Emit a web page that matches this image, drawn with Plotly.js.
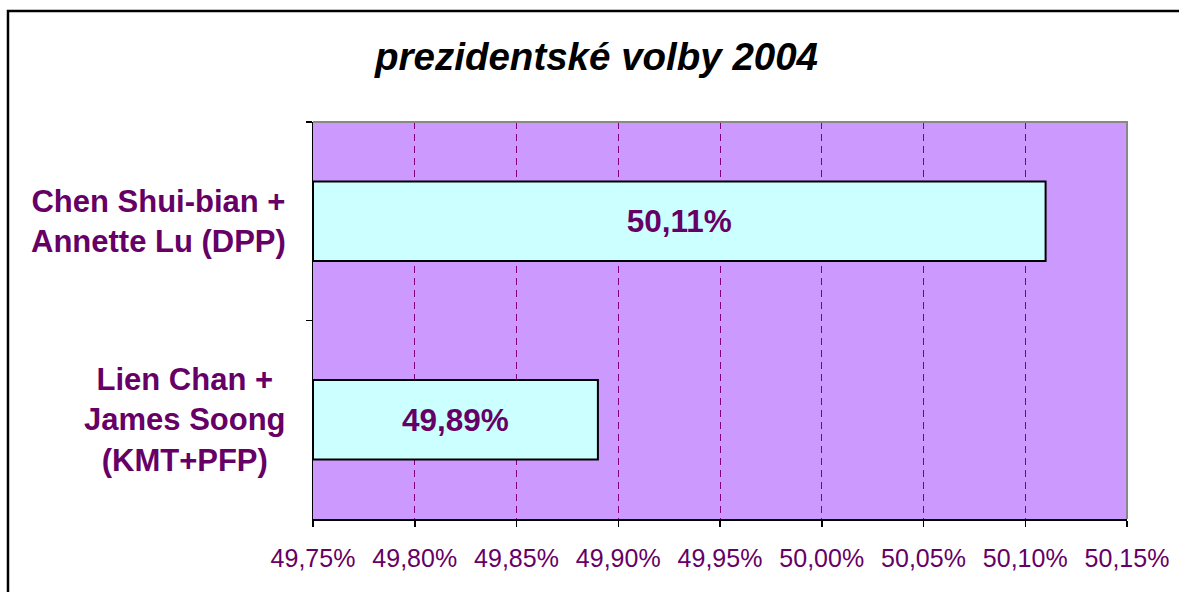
<!DOCTYPE html>
<html>
<head>
<meta charset="utf-8">
<script src="https://cdn.plot.ly/plotly-3.0.1.min.js"></script>
<style>
  html, body { margin: 0; padding: 0; background: #ffffff; overflow: hidden; }
  #chart { width: 1179px; height: 592px; }
</style>
</head>
<body>
<div id="chart"></div>
<script>
// ---- data ----
const categories = [
  "Chen Shui-bian +<br>Annette Lu (DPP)",
  "Lien Chan +<br>James Soong<br>(KMT+PFP)"
];
const values = [50.11, 49.89];           // percent
const barLabels = ["50,11%", "49,89%"];
const xTickValues = [49.75, 49.80, 49.85, 49.90, 49.95, 50.00, 50.05, 50.10, 50.15];
const xTickLabels = ["49,75%", "49,80%", "49,85%", "49,90%", "49,95%", "50,00%", "50,05%", "50,10%", "50,15%"];
const titleText = "<b><i>prezidentské volby 2004</i></b>";

// ---- chart ----
const axisMin = 49.75, axisMax = 50.15;
const FONT = "Liberation Sans, Arial, Helvetica, sans-serif";
const PURPLE = "#660066";

const trace = {
  type: "bar",
  orientation: "h",
  y: categories,
  base: axisMin,
  x: values.map(v => v - axisMin),
  width: 0.4,
  marker: { color: "#CCFFFF", line: { color: "#000000", width: 2 } },
  text: barLabels,
  textposition: "inside",
  insidetextanchor: "middle",
  textangle: 0,
  constraintext: "none",
  textfont: { family: FONT, size: 31.5, color: PURPLE, weight: "bold" },
  hoverinfo: "skip"
};

const labelAnnotations = categories.map(c => ({
  xref: "paper", yref: "y",
  x: -0.0319, y: c,
  xanchor: "right", yanchor: "middle",
  align: "center",
  showarrow: false,
  borderpad: 0,
  text: "<b>" + c + "</b>",
  font: { family: FONT, size: 31, color: PURPLE }
}));

const layout = {
  width: 1179, height: 592,
  margin: { l: 313, r: 52, t: 122, b: 73, pad: 0 },
  paper_bgcolor: "#ffffff",
  plot_bgcolor: "#CC99FF",
  showlegend: false,
  title: {
    text: titleText,
    font: { family: FONT, size: 38.5, color: "#000000" },
    x: 0.506, xref: "container", xanchor: "center",
    y: 0.905, yref: "container", yanchor: "middle"
  },
  xaxis: {
    range: [axisMin, axisMax],
    tickmode: "array",
    tickvals: xTickValues,
    ticktext: xTickLabels,
    ticks: "outside", ticklen: 6, tickwidth: 1.5, tickcolor: "#000000",
    showline: true, linecolor: "#000000", linewidth: 1.5,
    showgrid: true, gridcolor: "#800080", gridwidth: 1, griddash: "7px,5px",
    zeroline: false,
    tickfont: { family: FONT, size: 25, color: PURPLE },
    ticklabelstandoff: 10,
    fixedrange: true
  },
  yaxis: {
    type: "category",
    range: [1.5, -0.5],
    tickson: "boundaries",
    ticks: "outside", ticklen: 6, tickwidth: 1.5, tickcolor: "#000000",
    showticklabels: false,
    showline: true, linecolor: "#000000", linewidth: 1.5,
    showgrid: false, zeroline: false,
    fixedrange: true
  },
  annotations: labelAnnotations,
  shapes: [
    { type: "path", xref: "paper", yref: "paper",
      path: "M 0 1 L 1 1 L 1 0",
      line: { color: "#888888", width: 2 }, layer: "above" },
    { type: "rect", xref: "paper", yref: "paper",
      x0: -0.3747, x1: 1.2, y0: -0.4, y1: 1.2796,
      line: { color: "#000000", width: 2.5 }, fillcolor: "rgba(0,0,0,0)", layer: "above" }
  ]
};

Plotly.newPlot("chart", [trace], layout, { displayModeBar: false, staticPlot: true });
</script>
</body>
</html>
